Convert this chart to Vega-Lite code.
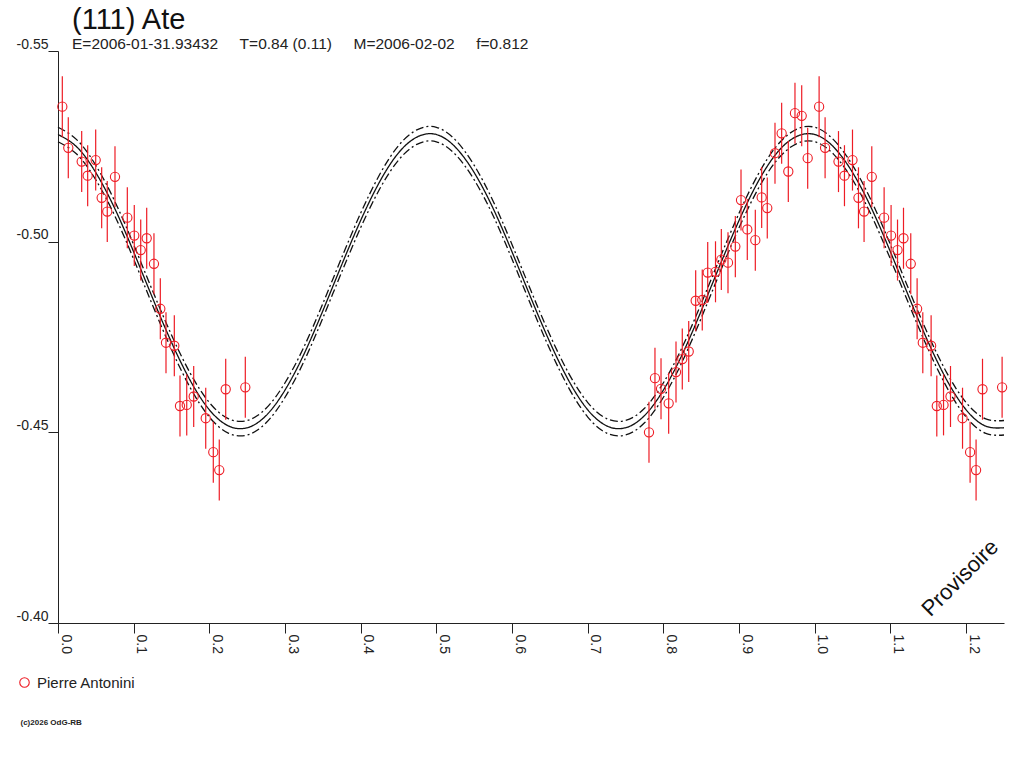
{
  "$schema": "https://vega.github.io/schema/vega-lite/v6.json",
  "autosize": {"type": "none"},
  "width": 946,
  "height": 572,
  "padding": {"left": 58, "top": 51, "right": 20, "bottom": 145},
  "background": "white",
  "config": {"view": {"stroke": null}, "font": "Liberation Sans"},
  "title": {
    "text": "(111) Ate",
    "subtitle": "E=2006-01-31.93432\u00a0\u00a0\u00a0\u00a0\u00a0T=0.84 (0.11)\u00a0\u00a0\u00a0\u00a0\u00a0M=2006-02-02\u00a0\u00a0\u00a0\u00a0\u00a0f=0.812",
    "anchor": "start",
    "frame": "group",
    "dx": 14,
    "dy": 15,
    "offset": 0,
    "font": "Liberation Sans",
    "fontSize": 29,
    "fontWeight": "normal",
    "color": "#111",
    "subtitleFont": "Liberation Sans",
    "subtitleFontSize": 15.5,
    "subtitleColor": "#222",
    "subtitlePadding": 2
  },
  "datasets": {
    "obs": [
      {"phase": 0.0057, "mag": -0.5354, "err": 0.008, "observer": "Pierre Antonini"},
      {"phase": 0.0136, "mag": -0.5246, "err": 0.008, "observer": "Pierre Antonini"},
      {"phase": 0.0313, "mag": -0.5210, "err": 0.008, "observer": "Pierre Antonini"},
      {"phase": 0.0392, "mag": -0.5173, "err": 0.008, "observer": "Pierre Antonini"},
      {"phase": 0.0498, "mag": -0.5214, "err": 0.008, "observer": "Pierre Antonini"},
      {"phase": 0.0577, "mag": -0.5115, "err": 0.008, "observer": "Pierre Antonini"},
      {"phase": 0.0651, "mag": -0.5079, "err": 0.008, "observer": "Pierre Antonini"},
      {"phase": 0.0753, "mag": -0.5170, "err": 0.008, "observer": "Pierre Antonini"},
      {"phase": 0.0916, "mag": -0.5063, "err": 0.008, "observer": "Pierre Antonini"},
      {"phase": 0.1008, "mag": -0.5016, "err": 0.008, "observer": "Pierre Antonini"},
      {"phase": 0.1093, "mag": -0.4978, "err": 0.008, "observer": "Pierre Antonini"},
      {"phase": 0.1172, "mag": -0.5009, "err": 0.008, "observer": "Pierre Antonini"},
      {"phase": 0.1268, "mag": -0.4942, "err": 0.008, "observer": "Pierre Antonini"},
      {"phase": 0.1352, "mag": -0.4824, "err": 0.008, "observer": "Pierre Antonini"},
      {"phase": 0.1427, "mag": -0.4735, "err": 0.008, "observer": "Pierre Antonini"},
      {"phase": 0.1537, "mag": -0.4727, "err": 0.008, "observer": "Pierre Antonini"},
      {"phase": 0.1612, "mag": -0.4569, "err": 0.008, "observer": "Pierre Antonini"},
      {"phase": 0.1701, "mag": -0.4572, "err": 0.008, "observer": "Pierre Antonini"},
      {"phase": 0.1793, "mag": -0.4594, "err": 0.008, "observer": "Pierre Antonini"},
      {"phase": 0.1952, "mag": -0.4537, "err": 0.008, "observer": "Pierre Antonini"},
      {"phase": 0.2052, "mag": -0.4448, "err": 0.008, "observer": "Pierre Antonini"},
      {"phase": 0.2131, "mag": -0.4401, "err": 0.008, "observer": "Pierre Antonini"},
      {"phase": 0.2216, "mag": -0.4613, "err": 0.008, "observer": "Pierre Antonini"},
      {"phase": 0.2475, "mag": -0.4618, "err": 0.008, "observer": "Pierre Antonini"},
      {"phase": 0.7809, "mag": -0.4500, "err": 0.008, "observer": "Pierre Antonini"},
      {"phase": 0.7888, "mag": -0.4642, "err": 0.008, "observer": "Pierre Antonini"},
      {"phase": 0.7968, "mag": -0.4614, "err": 0.008, "observer": "Pierre Antonini"},
      {"phase": 0.8069, "mag": -0.4576, "err": 0.008, "observer": "Pierre Antonini"},
      {"phase": 0.8166, "mag": -0.4658, "err": 0.008, "observer": "Pierre Antonini"},
      {"phase": 0.8249, "mag": -0.4692, "err": 0.008, "observer": "Pierre Antonini"},
      {"phase": 0.8334, "mag": -0.4712, "err": 0.008, "observer": "Pierre Antonini"},
      {"phase": 0.8426, "mag": -0.4845, "err": 0.008, "observer": "Pierre Antonini"},
      {"phase": 0.8513, "mag": -0.4847, "err": 0.008, "observer": "Pierre Antonini"},
      {"phase": 0.8585, "mag": -0.4919, "err": 0.008, "observer": "Pierre Antonini"},
      {"phase": 0.8688, "mag": -0.4921, "err": 0.008, "observer": "Pierre Antonini"},
      {"phase": 0.8765, "mag": -0.4953, "err": 0.008, "observer": "Pierre Antonini"},
      {"phase": 0.8853, "mag": -0.4945, "err": 0.008, "observer": "Pierre Antonini"},
      {"phase": 0.8950, "mag": -0.4987, "err": 0.008, "observer": "Pierre Antonini"},
      {"phase": 0.9025, "mag": -0.5109, "err": 0.008, "observer": "Pierre Antonini"},
      {"phase": 0.9108, "mag": -0.5032, "err": 0.008, "observer": "Pierre Antonini"},
      {"phase": 0.9214, "mag": -0.5004, "err": 0.008, "observer": "Pierre Antonini"},
      {"phase": 0.9298, "mag": -0.5116, "err": 0.008, "observer": "Pierre Antonini"},
      {"phase": 0.9372, "mag": -0.5088, "err": 0.008, "observer": "Pierre Antonini"},
      {"phase": 0.9474, "mag": -0.5232, "err": 0.008, "observer": "Pierre Antonini"},
      {"phase": 0.9562, "mag": -0.5284, "err": 0.008, "observer": "Pierre Antonini"},
      {"phase": 0.9650, "mag": -0.5184, "err": 0.008, "observer": "Pierre Antonini"},
      {"phase": 0.9738, "mag": -0.5337, "err": 0.008, "observer": "Pierre Antonini"},
      {"phase": 0.9827, "mag": -0.5330, "err": 0.008, "observer": "Pierre Antonini"},
      {"phase": 0.9906, "mag": -0.5219, "err": 0.008, "observer": "Pierre Antonini"},
      {"phase": 1.0057, "mag": -0.5354, "err": 0.008, "observer": "Pierre Antonini"},
      {"phase": 1.0136, "mag": -0.5246, "err": 0.008, "observer": "Pierre Antonini"},
      {"phase": 1.0313, "mag": -0.5210, "err": 0.008, "observer": "Pierre Antonini"},
      {"phase": 1.0392, "mag": -0.5173, "err": 0.008, "observer": "Pierre Antonini"},
      {"phase": 1.0498, "mag": -0.5214, "err": 0.008, "observer": "Pierre Antonini"},
      {"phase": 1.0577, "mag": -0.5115, "err": 0.008, "observer": "Pierre Antonini"},
      {"phase": 1.0651, "mag": -0.5079, "err": 0.008, "observer": "Pierre Antonini"},
      {"phase": 1.0753, "mag": -0.5170, "err": 0.008, "observer": "Pierre Antonini"},
      {"phase": 1.0916, "mag": -0.5063, "err": 0.008, "observer": "Pierre Antonini"},
      {"phase": 1.1008, "mag": -0.5016, "err": 0.008, "observer": "Pierre Antonini"},
      {"phase": 1.1093, "mag": -0.4978, "err": 0.008, "observer": "Pierre Antonini"},
      {"phase": 1.1172, "mag": -0.5009, "err": 0.008, "observer": "Pierre Antonini"},
      {"phase": 1.1268, "mag": -0.4942, "err": 0.008, "observer": "Pierre Antonini"},
      {"phase": 1.1352, "mag": -0.4824, "err": 0.008, "observer": "Pierre Antonini"},
      {"phase": 1.1427, "mag": -0.4735, "err": 0.008, "observer": "Pierre Antonini"},
      {"phase": 1.1537, "mag": -0.4727, "err": 0.008, "observer": "Pierre Antonini"},
      {"phase": 1.1612, "mag": -0.4569, "err": 0.008, "observer": "Pierre Antonini"},
      {"phase": 1.1701, "mag": -0.4572, "err": 0.008, "observer": "Pierre Antonini"},
      {"phase": 1.1793, "mag": -0.4594, "err": 0.008, "observer": "Pierre Antonini"},
      {"phase": 1.1952, "mag": -0.4537, "err": 0.008, "observer": "Pierre Antonini"},
      {"phase": 1.2052, "mag": -0.4448, "err": 0.008, "observer": "Pierre Antonini"},
      {"phase": 1.2131, "mag": -0.4401, "err": 0.008, "observer": "Pierre Antonini"},
      {"phase": 1.2216, "mag": -0.4613, "err": 0.008, "observer": "Pierre Antonini"},
      {"phase": 1.2475, "mag": -0.4618, "err": 0.008, "observer": "Pierre Antonini"}
    ],
    "fit": [
      {"phase": 0.000, "fit": -0.5281, "hi": -0.5300, "lo": -0.5262},
      {"phase": 0.025, "fit": -0.5248, "hi": -0.5267, "lo": -0.5229},
      {"phase": 0.050, "fit": -0.5181, "hi": -0.5200, "lo": -0.5162},
      {"phase": 0.075, "fit": -0.5087, "hi": -0.5106, "lo": -0.5068},
      {"phase": 0.100, "fit": -0.4973, "hi": -0.4992, "lo": -0.4954},
      {"phase": 0.125, "fit": -0.4852, "hi": -0.4871, "lo": -0.4833},
      {"phase": 0.150, "fit": -0.4736, "hi": -0.4755, "lo": -0.4717},
      {"phase": 0.175, "fit": -0.4635, "hi": -0.4654, "lo": -0.4616},
      {"phase": 0.200, "fit": -0.4559, "hi": -0.4578, "lo": -0.4540},
      {"phase": 0.225, "fit": -0.4517, "hi": -0.4536, "lo": -0.4498},
      {"phase": 0.250, "fit": -0.4512, "hi": -0.4531, "lo": -0.4493},
      {"phase": 0.275, "fit": -0.4544, "hi": -0.4563, "lo": -0.4525},
      {"phase": 0.300, "fit": -0.4611, "hi": -0.4630, "lo": -0.4592},
      {"phase": 0.325, "fit": -0.4705, "hi": -0.4724, "lo": -0.4686},
      {"phase": 0.350, "fit": -0.4819, "hi": -0.4838, "lo": -0.4800},
      {"phase": 0.375, "fit": -0.4940, "hi": -0.4959, "lo": -0.4921},
      {"phase": 0.400, "fit": -0.5056, "hi": -0.5075, "lo": -0.5037},
      {"phase": 0.425, "fit": -0.5157, "hi": -0.5176, "lo": -0.5138},
      {"phase": 0.450, "fit": -0.5233, "hi": -0.5252, "lo": -0.5214},
      {"phase": 0.475, "fit": -0.5275, "hi": -0.5294, "lo": -0.5256},
      {"phase": 0.500, "fit": -0.5281, "hi": -0.5300, "lo": -0.5262},
      {"phase": 0.525, "fit": -0.5248, "hi": -0.5267, "lo": -0.5229},
      {"phase": 0.550, "fit": -0.5181, "hi": -0.5200, "lo": -0.5162},
      {"phase": 0.575, "fit": -0.5087, "hi": -0.5106, "lo": -0.5068},
      {"phase": 0.600, "fit": -0.4973, "hi": -0.4992, "lo": -0.4954},
      {"phase": 0.625, "fit": -0.4852, "hi": -0.4871, "lo": -0.4833},
      {"phase": 0.650, "fit": -0.4736, "hi": -0.4755, "lo": -0.4717},
      {"phase": 0.675, "fit": -0.4635, "hi": -0.4654, "lo": -0.4616},
      {"phase": 0.700, "fit": -0.4559, "hi": -0.4578, "lo": -0.4540},
      {"phase": 0.725, "fit": -0.4517, "hi": -0.4536, "lo": -0.4498},
      {"phase": 0.750, "fit": -0.4512, "hi": -0.4531, "lo": -0.4493},
      {"phase": 0.775, "fit": -0.4544, "hi": -0.4563, "lo": -0.4525},
      {"phase": 0.800, "fit": -0.4611, "hi": -0.4630, "lo": -0.4592},
      {"phase": 0.825, "fit": -0.4705, "hi": -0.4724, "lo": -0.4686},
      {"phase": 0.850, "fit": -0.4819, "hi": -0.4838, "lo": -0.4800},
      {"phase": 0.875, "fit": -0.4940, "hi": -0.4959, "lo": -0.4921},
      {"phase": 0.900, "fit": -0.5056, "hi": -0.5075, "lo": -0.5037},
      {"phase": 0.925, "fit": -0.5157, "hi": -0.5176, "lo": -0.5138},
      {"phase": 0.950, "fit": -0.5233, "hi": -0.5252, "lo": -0.5214},
      {"phase": 0.975, "fit": -0.5275, "hi": -0.5294, "lo": -0.5256},
      {"phase": 1.000, "fit": -0.5281, "hi": -0.5300, "lo": -0.5262},
      {"phase": 1.025, "fit": -0.5248, "hi": -0.5267, "lo": -0.5229},
      {"phase": 1.050, "fit": -0.5181, "hi": -0.5200, "lo": -0.5162},
      {"phase": 1.075, "fit": -0.5087, "hi": -0.5106, "lo": -0.5068},
      {"phase": 1.100, "fit": -0.4973, "hi": -0.4992, "lo": -0.4954},
      {"phase": 1.125, "fit": -0.4852, "hi": -0.4871, "lo": -0.4833},
      {"phase": 1.150, "fit": -0.4736, "hi": -0.4755, "lo": -0.4717},
      {"phase": 1.175, "fit": -0.4635, "hi": -0.4654, "lo": -0.4616},
      {"phase": 1.200, "fit": -0.4559, "hi": -0.4578, "lo": -0.4540},
      {"phase": 1.225, "fit": -0.4517, "hi": -0.4536, "lo": -0.4498},
      {"phase": 1.250, "fit": -0.4512, "hi": -0.4531, "lo": -0.4493}
    ],
    "notes": [
      {"label": "Provisoire"}
    ]
  },
  "layer": [
    {
      "encoding": {
        "x": {
          "field": "phase",
          "type": "quantitative",
          "scale": {"domain": [0, 1.25], "nice": false, "zero": false},
          "axis": {
            "values": [0, 0.05, 0.1, 0.15, 0.2, 0.25, 0.3, 0.35, 0.4, 0.45, 0.5, 0.55, 0.6, 0.65, 0.7, 0.75, 0.8, 0.85, 0.9, 0.95, 1.0, 1.05, 1.1, 1.15, 1.2, 1.25],
            "labelExpr": "round(datum.value * 100) % 10 == 0 ? format(datum.value, '.1f') : ''",
            "labelAngle": 90,
            "labelAlign": "left",
            "labelBaseline": "middle",
            "labelOffset": 7,
            "labelPadding": 1,
            "labelFont": "Liberation Sans",
            "labelFontSize": 14,
            "labelColor": "#222",
            "labelFlush": false,
            "labelOverlap": false,
            "labelBound": false,
            "tickSize": {"condition": {"test": "round(datum.value * 100) % 10 == 0", "value": 10}, "value": 8},
            "tickColor": "#222",
            "domainColor": "#222",
            "grid": false,
            "title": "(c)2026 OdG-RB",
            "titleX": -38,
            "titleY": 99,
            "titleAlign": "left",
            "titleBaseline": "middle",
            "titleFontSize": 8,
            "titleFontWeight": "bold",
            "titleColor": "#222"
          }
        },
        "y": {
          "field": "mag",
          "type": "quantitative",
          "scale": {"domain": [-0.55, -0.4], "reverse": true, "nice": false, "zero": false},
          "axis": {
            "values": [-0.55, -0.5, -0.45, -0.4],
            "labelExpr": "'-' + format(abs(datum.value), '.2f')",
            "labelFont": "Liberation Sans",
            "labelFontSize": 14,
            "labelColor": "#222",
            "labelPadding": 0,
            "labelBaseline": "bottom",
            "labelFlush": false,
            "tickSize": 10,
            "tickColor": "#222",
            "domainColor": "#222",
            "grid": false,
            "title": null
          }
        }
      },
      "layer": [
        {
          "data": {"name": "fit"},
          "transform": [{"fold": ["fit", "hi", "lo"], "as": ["curve", "mag"]}],
          "mark": {"type": "line", "color": "#111", "interpolate": "natural", "strokeWidth": 1.3},
          "encoding": {
            "strokeDash": {
              "field": "curve",
              "type": "nominal",
              "scale": {"domain": ["fit", "hi", "lo"], "range": [[1, 0], [8, 3, 2, 3], [8, 3, 2, 3]]},
              "legend": null
            }
          }
        },
        {
          "data": {"name": "obs"},
          "mark": {"type": "errorbar", "color": "#ee1c25", "thickness": 1.2},
          "encoding": {"yError": {"field": "err"}}
        },
        {
          "data": {"name": "obs"},
          "mark": {"type": "point", "shape": "circle", "filled": false, "size": 85, "strokeWidth": 1.1, "opacity": 1},
          "encoding": {
            "color": {
              "field": "observer",
              "type": "nominal",
              "scale": {"range": ["#ee1c25"]},
              "legend": {
                "orient": "none",
                "legendX": -41,
                "legendY": 624,
                "title": null,
                "padding": 0,
                "labelFont": "Liberation Sans",
                "labelFontSize": 15,
                "labelColor": "#222",
                "labelOffset": 5,
                "symbolType": "circle",
                "symbolSize": 90,
                "symbolStrokeWidth": 1.1
              }
            }
          }
        }
      ]
    },
    {
      "data": {"name": "notes"},
      "mark": {"type": "text", "angle": 315, "font": "Liberation Sans", "fontSize": 22, "color": "#111", "align": "center", "baseline": "middle"},
      "encoding": {
        "x": {"datum": 1.192, "type": "quantitative"},
        "y": {"datum": -0.4118, "type": "quantitative"},
        "text": {"field": "label", "type": "nominal"}
      }
    }
  ]
}
